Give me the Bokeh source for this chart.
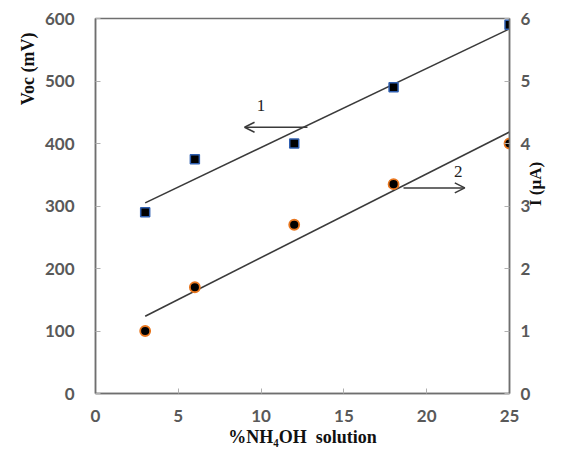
import numpy as np
from bokeh.plotting import figure
from bokeh.models import (Range1d, LinearAxis, FixedTicker, Label, Arrow, OpenHead, Title)
from bokeh.embed import file_html
from bokeh.resources import INLINE

# ---- data ----
nh4oh_pct = [3, 6, 12, 18, 25]
voc_mv = [290, 375, 400, 490, 590]
current_ua = [1.0, 1.7, 2.7, 3.35, 4.0]

x_ticks = [0, 5, 10, 15, 20, 25]
voc_ticks = [0, 100, 200, 300, 400, 500, 600]
i_ticks = [0, 1, 2, 3, 4, 5, 6]

# linear trend lines (least squares)
xa = np.array(nh4oh_pct, dtype=float)
m1, b1 = np.polyfit(xa, np.array(voc_mv, dtype=float), 1)
m2, b2 = np.polyfit(xa, np.array(current_ua, dtype=float), 1)
xt = np.array([xa.min(), xa.max()])

TICK_FONT = "Lato"
TITLE_FONT = "Liberation Serif"
GREY = "#595959"
FRAME = "#6f6f6f"

p = figure(width=557, height=449, output_backend="svg", toolbar_location=None,
           x_range=Range1d(0, 25), y_range=Range1d(0, 600),
           min_border_left=95, min_border_right=40, min_border_top=18, min_border_bottom=56,
           outline_line_color=FRAME, outline_line_width=1.5)
p.extra_y_ranges = {"i": Range1d(0, 6)}
p.xgrid.visible = False
p.ygrid.visible = False

def style_axis(ax, ticks, standoff):
    ax.ticker = FixedTicker(ticks=ticks)
    ax.major_tick_in = 5
    ax.major_tick_out = 0
    ax.minor_tick_line_color = None
    ax.major_tick_line_color = "#b0b0b0"
    ax.axis_line_color = FRAME
    ax.axis_line_width = 1.5
    ax.major_label_text_font = TICK_FONT
    ax.major_label_text_font_style = "bold"
    ax.major_label_text_font_size = "17px"
    ax.major_label_text_color = GREY
    ax.major_label_standoff = standoff

xax = p.xaxis[0]
yax = p.yaxis[0]
style_axis(xax, x_ticks, 16)
style_axis(yax, voc_ticks, 21)

right = LinearAxis(y_range_name="i")
style_axis(right, i_ticks, 11)
p.add_layout(right, "right")

xax.axis_label = "%NH\u2084OH\u2002solution"
xax.axis_label_text_font = TITLE_FONT
xax.axis_label_text_font_style = "bold"
xax.axis_label_text_font_size = "18px"
xax.axis_label_text_color = "#111111"
xax.axis_label_standoff = 2

# left title near the top
p.add_layout(Title(text="Voc (mV)", align="right", offset=14, standoff=8,
                   text_font=TITLE_FONT, text_font_style="bold", text_font_size="18px",
                   text_color="#111111"), "left")

# right title: a tick-less axis carrying the label, reading upwards
right_title = LinearAxis(y_range_name="i",
                         ticker=FixedTicker(ticks=[]),
                         axis_line_color=None, major_tick_line_color=None,
                         minor_tick_line_color=None,
                         axis_label="I (\u00b5A)", axis_label_standoff=2,
                         axis_label_text_font=TITLE_FONT,
                         axis_label_text_font_style="bold",
                         axis_label_text_font_size="17px",
                         axis_label_text_color="#111111")
right_title.axis_label_orientation = np.pi / 2
p.add_layout(right_title, "right")

# trend lines
p.line(xt, m1 * xt + b1, line_color="#3a3a3a", line_width=1.6)
p.line(xt, m2 * xt + b2, line_color="#3a3a3a", line_width=1.6, y_range_name="i")

# markers
p.scatter(nh4oh_pct, voc_mv, marker="square", size=9, fill_color="black",
          line_color="#2f5fb0", line_width=1.5)
p.scatter(nh4oh_pct, current_ua, marker="circle", size=10, fill_color="black",
          line_color="#e8761e", line_width=1.8, y_range_name="i")

# arrows and series labels
p.add_layout(Arrow(x_start=12.8, y_start=426, x_end=9.0, y_end=426,
                   line_color="#3a3a3a", line_width=1.5,
                   end=OpenHead(size=10, line_color="#3a3a3a", line_width=1.5)))
p.add_layout(Arrow(x_start=18.6, y_start=3.29, x_end=22.3, y_end=3.29, y_range_name="i",
                   line_color="#3a3a3a", line_width=1.5,
                   end=OpenHead(size=10, line_color="#3a3a3a", line_width=1.5)))
p.add_layout(Label(x=10.0, y=461, text="1", text_align="center", text_baseline="middle",
                   text_font=TITLE_FONT, text_font_size="17px", text_color="#222222"))
p.add_layout(Label(x=21.9, y=3.56, y_range_name="i", text="2", text_align="center",
                   text_baseline="middle", text_font=TITLE_FONT, text_font_size="17px",
                   text_color="#222222"))

open("out.html", "w").write(file_html(p, INLINE))
